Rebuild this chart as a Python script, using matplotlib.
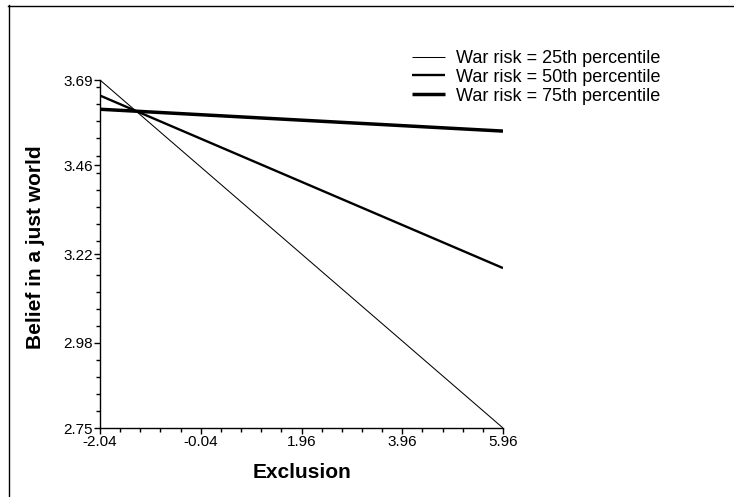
import matplotlib
matplotlib.use('Agg')
import matplotlib.pyplot as plt
from matplotlib.lines import Line2D
from matplotlib.ticker import AutoMinorLocator

plt.rcParams['font.family'] = ['Liberation Sans', 'DejaVu Sans']

exclusion = [-2.04, 5.96]
war25 = [3.69, 2.75]
war50 = [3.648, 3.182]
war75 = [3.611, 3.552]
labels = ['War risk = 25th percentile', 'War risk = 50th percentile',
          'War risk = 75th percentile']
xticks = [-2.04, -0.04, 1.96, 3.96, 5.96]
yticks = [2.75, 2.98, 3.22, 3.46, 3.69]

W, H = 734, 497
fig = plt.figure(figsize=(W / 100, H / 100), dpi=100)
ax = fig.add_axes([100 / W, (H - 428) / H, 403 / W, 348 / H])

p1, = ax.plot(exclusion, war25, color='black', lw=0.75, solid_capstyle='butt')
p2, = ax.plot(exclusion, war50, color='black', lw=1.7, solid_capstyle='butt')
p3, = ax.plot(exclusion, war75, color='black', lw=2.5, solid_capstyle='butt')

ax.set_xlim(-2.04, 5.96)
ax.set_ylim(2.75, 3.69)
ax.set_xticks(xticks)
ax.set_xticklabels(['%.2f' % v for v in xticks])
ax.set_yticks(yticks)
ax.set_yticklabels(['%.2f' % v for v in yticks])
ax.xaxis.set_minor_locator(AutoMinorLocator(5))
ax.yaxis.set_minor_locator(AutoMinorLocator(5))
ax.tick_params(which='major', direction='out', length=4, width=1, labelsize=11, pad=1)
ax.tick_params(which='minor', direction='out', length=3, width=1)
ax.spines['top'].set_visible(False)
ax.spines['right'].set_visible(False)
ax.spines['left'].set_linewidth(1)
ax.spines['bottom'].set_linewidth(1)

ax.set_xlabel('Exclusion', fontsize=15, fontweight='bold', labelpad=10)
ax.set_ylabel('Belief in a just world', fontsize=15, fontweight='bold')
ax.yaxis.set_label_coords(-55 / 403, 0.52)

leg = fig.legend([p1, p2, p3], labels, loc='upper left',
                 bbox_to_anchor=(412 / W, (H - 50) / H), frameon=False,
                 fontsize=13, handlelength=1.8, handletextpad=0.65,
                 labelspacing=0.1, borderpad=0, borderaxespad=0)

# outer frame (left and top edges)
fig.add_artist(Line2D([8.5 / W, 8.5 / W], [0, (H - 5) / H], transform=fig.transFigure,
                      color='black', lw=1))
fig.add_artist(Line2D([8 / W, 1], [(H - 5.5) / H, (H - 5.5) / H], transform=fig.transFigure,
                      color='black', lw=1))

fig.savefig('out.png', dpi=100)
